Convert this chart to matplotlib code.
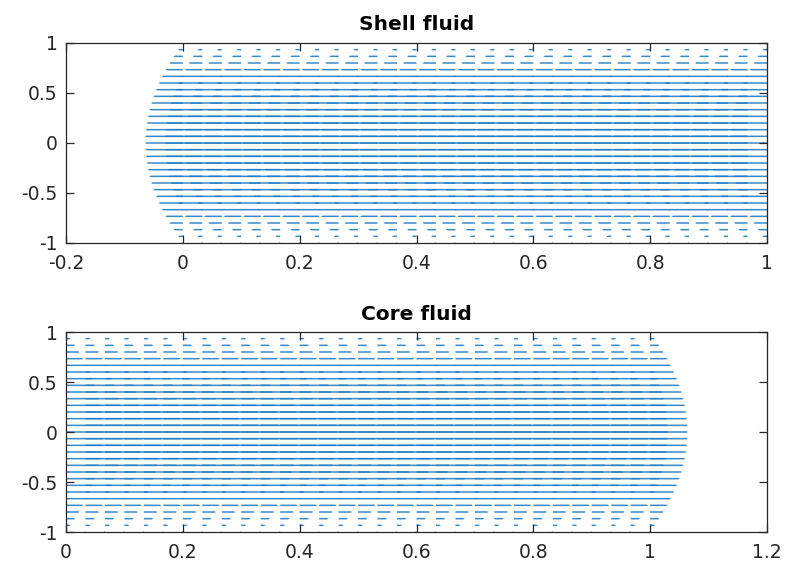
import numpy as np
import matplotlib
matplotlib.use('Agg')
import matplotlib.pyplot as plt

# grid of arrow origins (31 x 31)
x_grid = np.linspace(0, 1, 31)
y_grid = np.linspace(-1, 1, 31)

# horizontal velocity per row (parabolic profile), rows from y=-1 to y=1
u_profile = [0.0, 0.129, 0.249, 0.36, 0.462, 0.556, 0.64, 0.716, 0.782, 0.84,
             0.889, 0.929, 0.96, 0.982, 0.996, 1.0, 0.996, 0.982, 0.96, 0.929,
             0.889, 0.84, 0.782, 0.716, 0.64, 0.556, 0.462, 0.36, 0.249, 0.129, 0.0]

shell_dir = -1   # shell fluid moves left
core_dir = 1     # core fluid moves right

titles = ['Shell fluid', 'Core fluid']
xlims = [(-0.2, 1), (0, 1.2)]
xticks = [[-0.2, 0, 0.2, 0.4, 0.6, 0.8, 1], [0, 0.2, 0.4, 0.6, 0.8, 1, 1.2]]
yticks = [-1, -0.5, 0, 0.5, 1]

blue = '#1f7cc4'
edge = '#262626'

X, Y = np.meshgrid(x_grid, y_grid)
U_base = np.tile(np.array(u_profile)[:, None], (1, len(x_grid)))
V = np.zeros_like(U_base)

# matlab-like autoscale: longest arrow = 0.9 * grid diagonal
delx = (x_grid.max() - x_grid.min()) / len(x_grid)
dely = (y_grid.max() - y_grid.min()) / len(y_grid)
s = 0.9 * np.sqrt(delx**2 + dely**2) / np.abs(U_base).max()

fig = plt.figure(figsize=(7.86, 5.65), dpi=100)
ax1 = fig.add_axes([66/786, 1-243/565, 701/786, 200/565])
ax2 = fig.add_axes([66/786, 1-532/565, 701/786, 200/565])

for ax, d, title, xl, xt in zip([ax1, ax2], [shell_dir, core_dir], titles, xlims, xticks):
    ax.quiver(X, Y, d*U_base, V, angles='xy', scale_units='xy', scale=1/s,
              units='dots', width=1.5, headwidth=1, headlength=1, headaxislength=1,
              minlength=0, minshaft=0, color=blue, alpha=0.9, pivot='tail')
    ax.set_xlim(xl)
    ax.set_ylim(-1, 1)
    ax.set_xticks(xt)
    ax.set_xticklabels([('%g' % v) for v in xt])
    ax.set_yticks(yticks)
    ax.set_yticklabels([('%g' % v) for v in yticks])
    ax.set_title(title, fontsize=14.5, fontweight='bold', color='black', pad=9)
    ax.tick_params(axis='both', direction='in', top=True, right=True, length=6,
                   width=0.9, color=edge, labelsize=13.5, labelcolor=edge)
    ax.tick_params(axis='x', pad=8)
    ax.tick_params(axis='y', pad=6)
    for sp in ax.spines.values():
        sp.set_color(edge)
        sp.set_linewidth(0.9)

fig.savefig('out.png', dpi=100)
